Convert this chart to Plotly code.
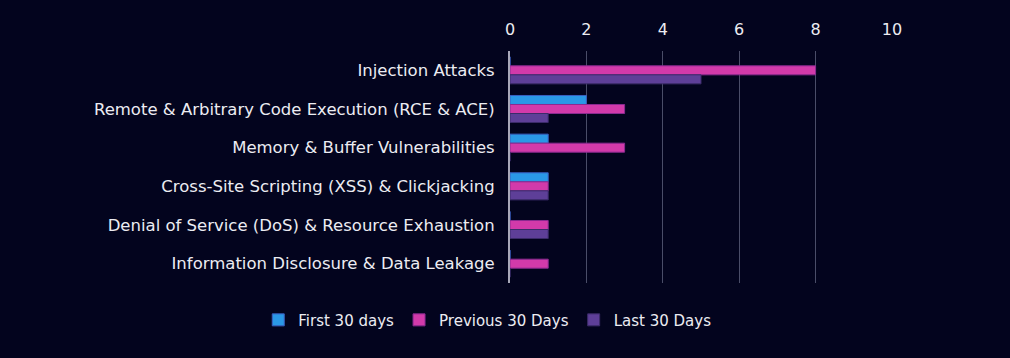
import plotly.graph_objects as go

categories = [
    "Injection Attacks",
    "Remote & Arbitrary Code Execution (RCE & ACE)",
    "Memory & Buffer Vulnerabilities",
    "Cross-Site Scripting (XSS) & Clickjacking",
    "Denial of Service (DoS) & Resource Exhaustion",
    "Information Disclosure & Data Leakage",
]
first_30 = [0, 2, 1, 1, 0, 0]
previous_30 = [8, 3, 3, 1, 1, 1]
last_30 = [5, 1, 0, 1, 1, 0]
tick_vals = [0, 2, 4, 6, 8, 10]

series = [
    ("First 30 days", first_30, "#2a98e6", "#3a5fc0"),
    ("Previous 30 Days", previous_30, "#d23aaa", "#8a2a90"),
    ("Last 30 Days", last_30, "#5e3f98", "#3c2c6a"),
]

fig = go.Figure()
for name, vals, col, edge in series:
    fig.add_trace(go.Bar(
        y=categories, x=vals, name=name, orientation="h",
        marker=dict(color=col, line=dict(color=edge, width=1)),
    ))

bg = "#03041e"
txt = "#ececf2"
fig.update_layout(
    width=1010, height=358,
    paper_bgcolor=bg, plot_bgcolor=bg,
    barmode="group", bargap=0.3, bargroupgap=0,
    margin=dict(l=510, r=118, t=51, b=75),
    font=dict(family="DejaVu Sans, sans-serif", size=16, color=txt),
    xaxis=dict(
        side="top", range=[0, 10], tickvals=tick_vals,
        showgrid=True, gridcolor="#4a4d68", gridwidth=1,
        zeroline=False, showline=False, ticks="",
        tickfont=dict(size=16, color=txt),
        ticklabelstandoff=12,
    ),
    yaxis=dict(
        autorange="reversed", showgrid=False, ticks="", ticklen=0,
        showline=True, linecolor="#a8a8b8", linewidth=2,
        tickfont=dict(size=16.5, color=txt),
        ticklabelstandoff=10,
    ),
    legend=dict(
        orientation="h", x=-0.659, xanchor="left",
        y=-0.16, yanchor="middle",
        font=dict(size=15, color=txt), itemwidth=30,
    ),
)

fig.write_html(
    "out.html",
    config={"displayModeBar": False},
    post_script="document.body.style.margin='0';document.body.style.background='#03041e';",
)
